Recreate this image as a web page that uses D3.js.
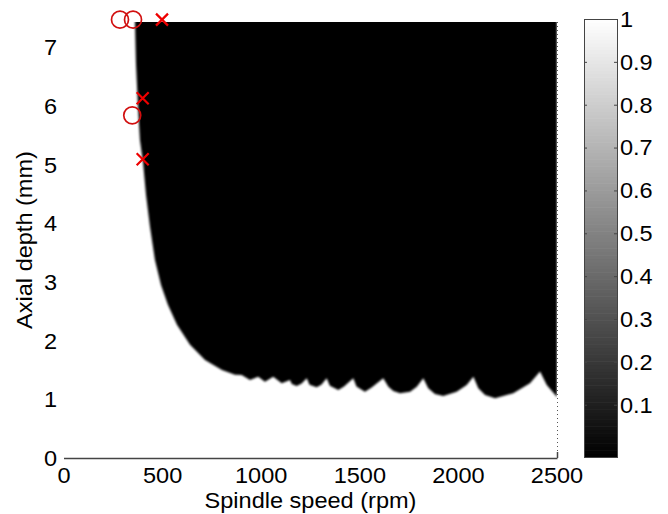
<!DOCTYPE html>
<html>
<head>
<meta charset="utf-8">
<script src="https://cdn.jsdelivr.net/npm/d3@7"></script>
<style>
  body { margin: 0; background: #fff; }
  text { font-family: "Liberation Sans", Arial, sans-serif; fill: #000; }
</style>
</head>
<body>
<div id="chart"></div>
<script>
var svgWidth = 668;
var svgHeight = 514;

// plot box and colorbar box, in pixels
var plot = { left: 64, right: 557, top: 22, bottom: 458 };
var cbar = { left: 584, right: 617, top: 19, bottom: 457 };

// axis ticks
var xTicks = [0, 500, 1000, 1500, 2000, 2500];
var yTicks = [0, 1, 2, 3, 4, 5, 6, 7];
var cbTicks = [0.1, 0.2, 0.3, 0.4, 0.5, 0.6, 0.7, 0.8, 0.9, 1];

// stability boundary (rpm, mm): black above, white below
var lobeRpm = [360, 365, 375, 385, 401, 416, 436, 461, 492, 527, 573, 639, 715, 801, 867,
  901, 943, 985, 1019, 1061, 1104, 1146, 1155, 1180, 1205, 1231, 1245, 1281, 1305, 1332,
  1348, 1391, 1420, 1467, 1483, 1526, 1560, 1619, 1645, 1670, 1704, 1755, 1789, 1822,
  1847, 1881, 1923, 1991, 2042, 2076, 2101, 2135, 2186, 2278, 2363, 2414, 2448, 2500];
var lobeDepth = [7.43, 6.72, 6.00, 5.42, 5.03, 4.48, 3.94, 3.38, 2.95, 2.61, 2.27, 1.93, 1.67, 1.50, 1.42,
  1.415, 1.33, 1.386, 1.30, 1.386, 1.274, 1.33, 1.26, 1.228, 1.27, 1.359, 1.25, 1.206, 1.25, 1.359,
  1.23, 1.16, 1.22, 1.359, 1.22, 1.13, 1.20, 1.359, 1.216, 1.143, 1.103, 1.131, 1.216, 1.359,
  1.189, 1.091, 1.057, 1.131, 1.245, 1.386, 1.189, 1.074, 1.018, 1.103, 1.274, 1.472, 1.245, 1.04];

// red markers
var circleRpm = [284, 350, 346];
var circleDepth = [7.47, 7.47, 5.84];
var crossRpm = [497, 399, 399];
var crossDepth = [7.47, 6.13, 5.09];

var svg = d3.select("#chart")
  .append("svg")
  .attr("width", svgWidth)
  .attr("height", svgHeight);

var x = d3.scaleLinear().domain([0, 2500]).range([plot.left, plot.right]);
var y = d3.scaleLinear().domain([0, 7.43]).range([plot.bottom, plot.top]);

// the source figure's lettering is a bit wider than plain Arial
function label(g, tx, ty, rot) {
  return g.append("text")
    .attr("transform", `translate(${tx},${ty})` + (rot ? " rotate(-90)" : "") + " scale(1.07,1)")
    .attr("font-size", "22px");
}

var defs = svg.append("defs");
defs.append("clipPath").attr("id", "plotClip")
  .append("rect")
  .attr("x", plot.left).attr("y", plot.top)
  .attr("width", plot.right - plot.left).attr("height", plot.bottom - plot.top);
defs.append("filter").attr("id", "soft")
  .attr("x", -0.05).attr("y", -0.05).attr("width", 1.1).attr("height", 1.1)
  .append("feGaussianBlur").attr("stdDeviation", 1.0);

// unstable region as a filled area
var lobes = lobeRpm.map(function(r, i) { return { rpm: r, depth: lobeDepth[i] }; });

var area = d3.area()
  .x(d => x(d.rpm))
  .y0(plot.top - 10)
  .y1(d => y(d.depth));

svg.append("g")
  .attr("clip-path", "url(#plotClip)")
  .append("path")
  .datum(lobes)
  .attr("d", area)
  .attr("fill", "#000")
  .attr("filter", "url(#soft)");

// dotted right edge
svg.append("line")
  .attr("x1", plot.right + 0.5).attr("x2", plot.right + 0.5)
  .attr("y1", plot.top).attr("y2", plot.bottom)
  .attr("stroke", "#555")
  .attr("stroke-width", 1)
  .attr("stroke-dasharray", "1,3");

// bottom axis line and the tick at 2500
svg.append("line")
  .attr("x1", plot.left).attr("x2", plot.right + 0.5)
  .attr("y1", plot.bottom + 0.5).attr("y2", plot.bottom + 0.5)
  .attr("stroke", "#444")
  .attr("stroke-width", 1.5);
svg.append("line")
  .attr("x1", x(2500) + 0.5).attr("x2", x(2500) + 0.5)
  .attr("y1", plot.bottom).attr("y2", plot.bottom - 6)
  .attr("stroke", "#444")
  .attr("stroke-width", 1.5);

// tick labels
var xLab = svg.append("g");
xTicks.forEach(function(t) {
  label(xLab, x(t), 483).attr("text-anchor", "middle").text(t);
});

var yLab = svg.append("g");
yTicks.forEach(function(t) {
  label(yLab, 57, y(t)).attr("dy", "0.36em").attr("text-anchor", "end").text(t);
});

// axis titles
label(svg, (plot.left + plot.right) / 2, 508).attr("text-anchor", "middle").text("Spindle speed (rpm)");
label(svg, 32, (plot.top + plot.bottom) / 2, true).attr("text-anchor", "middle").text("Axial depth (mm)");

// markers
var markers = svg.append("g");
markers.selectAll("circle")
  .data(circleRpm.map((r, i) => [r, circleDepth[i]]))
  .enter()
  .append("circle")
  .attr("cx", d => x(d[0]))
  .attr("cy", d => y(d[1]))
  .attr("r", 8.5)
  .attr("fill", "none")
  .attr("stroke", "#d10f0f")
  .attr("stroke-width", 1.7);

var s = 6;
markers.selectAll("path")
  .data(crossRpm.map((r, i) => [r, crossDepth[i]]))
  .enter()
  .append("path")
  .attr("d", d => {
    var cx = x(d[0]), cy = y(d[1]);
    return `M${cx - s},${cy - s}L${cx + s},${cy + s}M${cx - s},${cy + s}L${cx + s},${cy - s}`;
  })
  .attr("stroke", "#e00")
  .attr("stroke-width", 2.2);

// colorbar
var cbScale = d3.scaleLinear().domain([-0.022, 1]).range([cbar.bottom, cbar.top]);
var grey = d3.scaleLinear().domain([-0.022, 1]).range(["#000", "#fff"]);
var levels = d3.range(0, 128).map(i => -0.022 + (1.022 * i) / 128);
var step = 1.022 / 128;

svg.append("g").selectAll("rect")
  .data(levels)
  .enter()
  .append("rect")
  .attr("x", cbar.left)
  .attr("width", cbar.right - cbar.left)
  .attr("y", d => cbScale(d + step))
  .attr("height", d => cbScale(d) - cbScale(d + step) + 0.6)
  .attr("fill", d => grey(d + step / 2));

svg.append("rect")
  .attr("x", cbar.left + 0.5).attr("y", cbar.top + 0.5)
  .attr("width", cbar.right - cbar.left).attr("height", cbar.bottom - cbar.top)
  .attr("fill", "none")
  .attr("stroke", "#444")
  .attr("stroke-width", 1);

var cbTickG = svg.append("g");
cbTickG.selectAll("line.l")
  .data(cbTicks)
  .enter()
  .append("line")
  .attr("class", "l")
  .attr("x1", cbar.left).attr("x2", cbar.left + 3)
  .attr("y1", d => cbScale(d) + 0.5).attr("y2", d => cbScale(d) + 0.5)
  .attr("stroke", "#444");
cbTickG.selectAll("line.r")
  .data(cbTicks)
  .enter()
  .append("line")
  .attr("class", "r")
  .attr("x1", cbar.right - 3).attr("x2", cbar.right)
  .attr("y1", d => cbScale(d) + 0.5).attr("y2", d => cbScale(d) + 0.5)
  .attr("stroke", "#444");

cbTicks.forEach(function(t) {
  label(cbTickG, cbar.right + 3, cbScale(t)).attr("dy", "0.36em").text(t);
});
</script>
</body>
</html>
